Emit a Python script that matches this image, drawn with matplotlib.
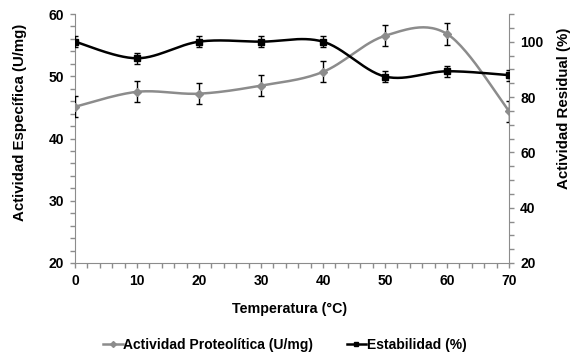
import numpy as np
import matplotlib
matplotlib.use("Agg")
import matplotlib.pyplot as plt
from matplotlib.ticker import MultipleLocator

plt.rcParams["font.family"] = ["Liberation Sans", "DejaVu Sans"]
plt.rcParams["font.weight"] = "bold"

# Data
temperatura = [0, 10, 20, 30, 40, 50, 60, 70]
actividad = [45.1, 47.5, 47.2, 48.5, 50.7, 56.5, 56.8, 44.4]
actividad_err = [1.7, 1.7, 1.7, 1.7, 1.7, 1.7, 1.7, 1.7]
estabilidad = [100, 94, 100, 100, 100, 87.4, 89.3, 87.9]
estabilidad_err = [2, 2, 2, 2, 2, 2, 2, 2]


# Excel-like smoothed line (Catmull-Rom through the data points)
def smooth(x, y, n=30):
    x = np.asarray(x, float)
    y = np.asarray(y, float)
    px = np.concatenate([[x[0]], x, [x[-1]]])
    py = np.concatenate([[y[0]], y, [y[-1]]])
    xs, ys = [], []
    for i in range(1, len(px) - 2):
        p0 = np.array([px[i], py[i]])
        p3 = np.array([px[i + 1], py[i + 1]])
        c1 = p0 + (np.array([px[i + 1], py[i + 1]]) - np.array([px[i - 1], py[i - 1]])) / 6
        c2 = p3 - (np.array([px[i + 2], py[i + 2]]) - np.array([px[i], py[i]])) / 6
        t = np.linspace(0, 1, n)[:, None]
        b = (1 - t) ** 3 * p0 + 3 * (1 - t) ** 2 * t * c1 + 3 * (1 - t) * t ** 2 * c2 + t ** 3 * p3
        xs.extend(b[:, 0])
        ys.extend(b[:, 1])
    return np.array(xs), np.array(ys)


gray = "#8c8c8c"
spine_col = "#8c8c8c"
fs_tick = 10
fs_ylab = 10.8
fs_xlab = 10.3
fs_leg = 10

fig = plt.figure(figsize=(5.71, 3.57), dpi=100)
ax = fig.add_axes([75 / 571, 1 - 263 / 357, 434 / 571, 249 / 357])
ax2 = ax.twinx()

# Actividad (left axis)
sx, sy = smooth(temperatura, actividad)
ax.plot(sx, sy, color=gray, lw=1.8, zorder=2)
ax.errorbar(temperatura, actividad, yerr=actividad_err, fmt="none", ecolor="black",
            elinewidth=1, capsize=2.5, capthick=1, zorder=3)
ax.plot(temperatura, actividad, "D", color=gray, ms=4.5, zorder=4)

# Estabilidad (right axis)
sx2, sy2 = smooth(temperatura, estabilidad)
ax2.plot(sx2, sy2, color="black", lw=1.8, zorder=2)
ax2.errorbar(temperatura, estabilidad, yerr=estabilidad_err, fmt="none", ecolor="black",
             elinewidth=1, capsize=2.5, capthick=1, zorder=3)
ax2.plot(temperatura, estabilidad, "s", color="black", ms=4, zorder=4)

ax.set_xlim(0, 70)
ax.set_ylim(20, 60)
ax2.set_ylim(20, 110)

ax.xaxis.set_major_locator(MultipleLocator(10))
ax.xaxis.set_minor_locator(MultipleLocator(2))
ax.yaxis.set_major_locator(MultipleLocator(10))
ax.yaxis.set_minor_locator(MultipleLocator(2))
ax2.yaxis.set_major_locator(MultipleLocator(20))
ax2.yaxis.set_minor_locator(MultipleLocator(5))

for a in (ax, ax2):
    a.spines["top"].set_visible(False)
    for s in ("left", "right", "bottom"):
        a.spines[s].set_color(spine_col)
    a.tick_params(which="both", direction="out", color=spine_col, length=3.5, width=1,
                  labelsize=fs_tick, pad=4.5)
ax.spines["right"].set_visible(False)
ax2.spines["left"].set_visible(False)
ax2.spines["bottom"].set_visible(False)

ax.set_xlabel("Temperatura (°C)", fontsize=fs_xlab, fontweight="bold")
ax.set_ylabel("Actividad Específica (U/mg)", fontsize=fs_ylab, fontweight="bold")
ax2.set_ylabel("Actividad Residual (%)", fontsize=fs_ylab, fontweight="bold")
ax.xaxis.set_label_coords(0.495, -0.157)
ax.yaxis.set_label_coords(-0.111, 0.566)
ax2.yaxis.set_label_coords(1.111, 0.622)

h1, = ax.plot([], [], "-D", color=gray, ms=3, lw=1.8)
h2, = ax.plot([], [], "-s", color="black", ms=3, lw=1.8)
fig.legend([h1, h2], ["Actividad Proteolítica (U/mg)", "Estabilidad (%)"],
           loc="center", bbox_to_anchor=(0.499, 0.034), ncol=2, frameon=False,
           fontsize=fs_leg, handlelength=1.4, handletextpad=0.05, columnspacing=2.4)

fig.savefig("out.png", dpi=100)
